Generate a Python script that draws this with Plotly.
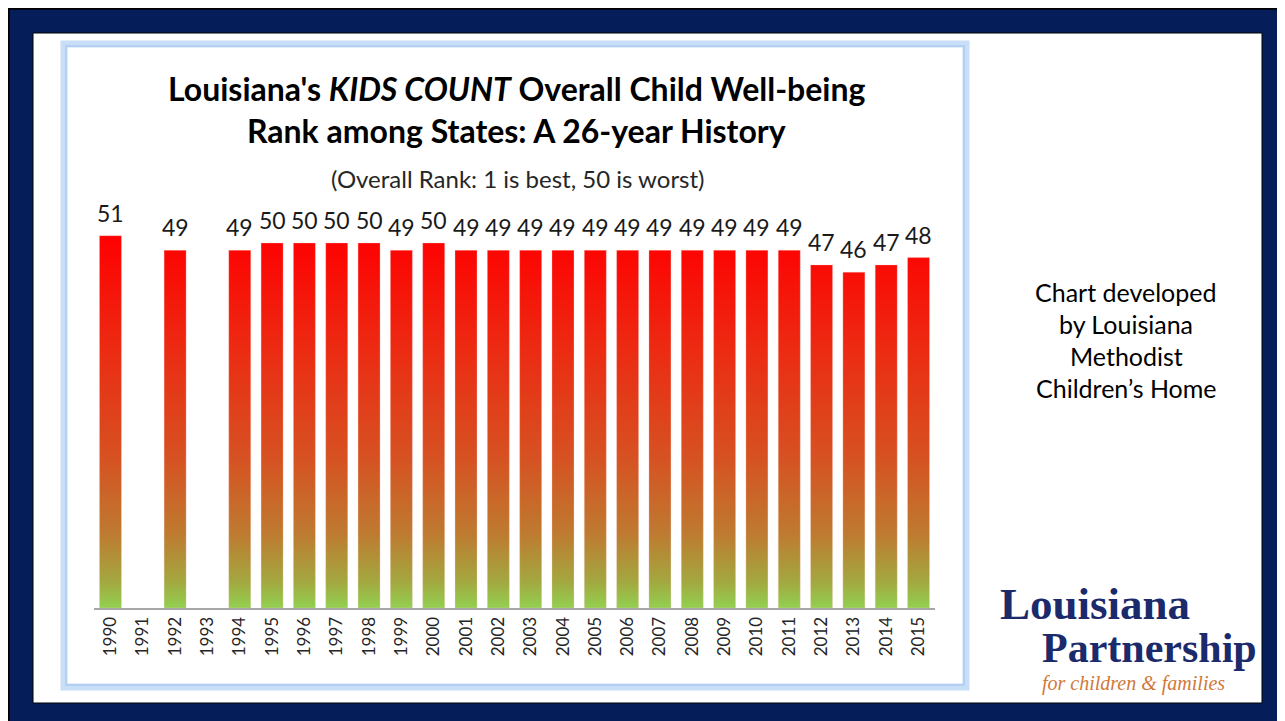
import plotly.graph_objects as go

# page body has an 8px margin; the figure fills the rest of the 1285x721 window
OFF = 8
W, H = 1285 - OFF, 721 - OFF

years = [str(y) for y in range(1990, 2016)]
ranks = [51, None, 49, None, 49, 50, 50, 50, 50, 49, 50, 49, 49, 49, 49, 49,
         49, 49, 49, 49, 49, 49, 47, 46, 47, 48]

title_line1 = "Louisiana's <i>KIDS COUNT</i> Overall Child Well-being"
title_line2 = "Rank among States: A 26-year History"
subtitle = "(Overall Rank: 1 is best, 50 is worst)"
side_note = ["Chart developed", "by Louisiana", "Methodist", "Children\u2019s Home"]

FONT = "Lato"
NAVY = "#051E5A"


def px(x):
    return (x - OFF) / W


def py(y):
    return 1 - (y - OFF) / H


idx = list(range(len(years)))
bar_w = 0.68

# gradient bar polygons built from the data
gx, gy = [], []
for i, v in zip(idx, ranks):
    if v is None:
        continue
    gx += [i - bar_w / 2, i + bar_w / 2, i + bar_w / 2, i - bar_w / 2, i - bar_w / 2, None]
    gy += [0, 0, v, v, 0, None]

fig = go.Figure()

fig.add_trace(go.Scatter(
    x=gx, y=gy, mode="lines", fill="toself",
    line=dict(width=0.6, color="rgba(255,200,200,0.5)"),
    fillgradient=dict(
        type="vertical", start=0, stop=51,
        colorscale=[[0.0, "#92D050"], [0.07, "#A3A840"], [0.2, "#BE7A30"],
                    [0.4, "#D65222"], [0.7, "#EC2A12"], [1.0, "#FF0000"]],
    ),
    hoverinfo="skip", showlegend=False,
))

x0p, x1p = 94.3, 934.7
y_base, y_top = 608, 608 - 55 * 7.3

fig.update_layout(
    width=W, height=H,
    margin=dict(l=0, r=0, t=0, b=0),
    paper_bgcolor=NAVY, plot_bgcolor="rgba(0,0,0,0)",
    xaxis=dict(
        domain=[px(x0p), px(x1p)], range=[-0.5, len(years) - 0.5],
        tickmode="array", tickvals=idx, ticktext=years, tickangle=-90,
        tickfont=dict(family=FONT, size=17, color="#262626"),
        showgrid=False, zeroline=False, showline=True,
        linecolor="#A6A6A6", linewidth=2, ticks="", ticklen=0,
    ),
    yaxis=dict(
        domain=[py(y_base), py(y_top)], range=[0, 55],
        visible=False, showgrid=False, zeroline=False,
    ),
    showlegend=False,
)

shapes = [
    # black edge line of navy frame
    dict(type="line", xref="paper", yref="paper", x0=0, x1=1, y0=0.999, y1=0.999,
         line=dict(color="black", width=2), layer="below"),
    dict(type="line", xref="paper", yref="paper", x0=0.0006, x1=0.0006, y0=0, y1=1,
         line=dict(color="black", width=2), layer="below"),
    # inner white slide
    dict(type="rect", xref="paper", yref="paper", x0=px(33), x1=px(1262), y0=py(703), y1=py(33),
         fillcolor="white", line=dict(color="black", width=1), layer="below"),
    # chart box glow border
    dict(type="rect", xref="paper", yref="paper", x0=px(64), x1=px(966), y0=py(687), y1=py(44),
         fillcolor="white", line=dict(color="#C9DEF7", width=7), layer="below"),
    dict(type="rect", xref="paper", yref="paper", x0=px(66), x1=px(964), y0=py(685), y1=py(46),
         fillcolor="rgba(0,0,0,0)", line=dict(color="#B3D0F2", width=2), layer="below"),
]
fig.update_layout(shapes=shapes)

ann = []
# value labels above bars
for i, v in zip(idx, ranks):
    if v is None:
        continue
    ann.append(dict(x=i, y=v, xref="x", yref="y", text=str(v), showarrow=False,
                    xanchor="center", yanchor="bottom", yshift=7,
                    font=dict(family=FONT, size=23, color="#1a1a1a")))

ann.append(dict(x=px(516), y=py(88), xref="paper", yref="paper", text="<b>" + title_line1 + "</b>",
                showarrow=False, xanchor="center", yanchor="middle",
                font=dict(family=FONT, size=32, color="black")))
ann.append(dict(x=px(516), y=py(131), xref="paper", yref="paper", text="<b>" + title_line2 + "</b>",
                showarrow=False, xanchor="center", yanchor="middle",
                font=dict(family=FONT, size=32, color="black")))
ann.append(dict(x=px(517), y=py(178), xref="paper", yref="paper", text=subtitle,
                showarrow=False, xanchor="center", yanchor="middle",
                font=dict(family=FONT, size=24, color="#262626")))
for k, line in enumerate(side_note):
    ann.append(dict(x=px(1126), y=py(292 + 32 * k), xref="paper", yref="paper", text=line,
                    showarrow=False, xanchor="center", yanchor="middle",
                    font=dict(family=FONT, size=25, color="black")))

# logo as text
ann.append(dict(x=px(998), y=py(604), xref="paper", yref="paper", text="<b>Louisiana</b>",
                showarrow=False, xanchor="left", yanchor="middle",
                font=dict(family="Liberation Serif", size=45, color="#1B2A6B")))
ann.append(dict(x=px(1259), y=py(648), xref="paper", yref="paper", text="<b>Partnership</b>",
                showarrow=False, xanchor="right", yanchor="middle",
                font=dict(family="Liberation Serif", size=42, color="#1B2A6B")))
ann.append(dict(x=px(1227), y=py(683), xref="paper", yref="paper", text="<i>for children & families</i>",
                showarrow=False, xanchor="right", yanchor="middle",
                font=dict(family="Liberation Serif", size=20, color="#D0783A")))
fig.update_layout(annotations=ann)

fig.write_html("out.html")
